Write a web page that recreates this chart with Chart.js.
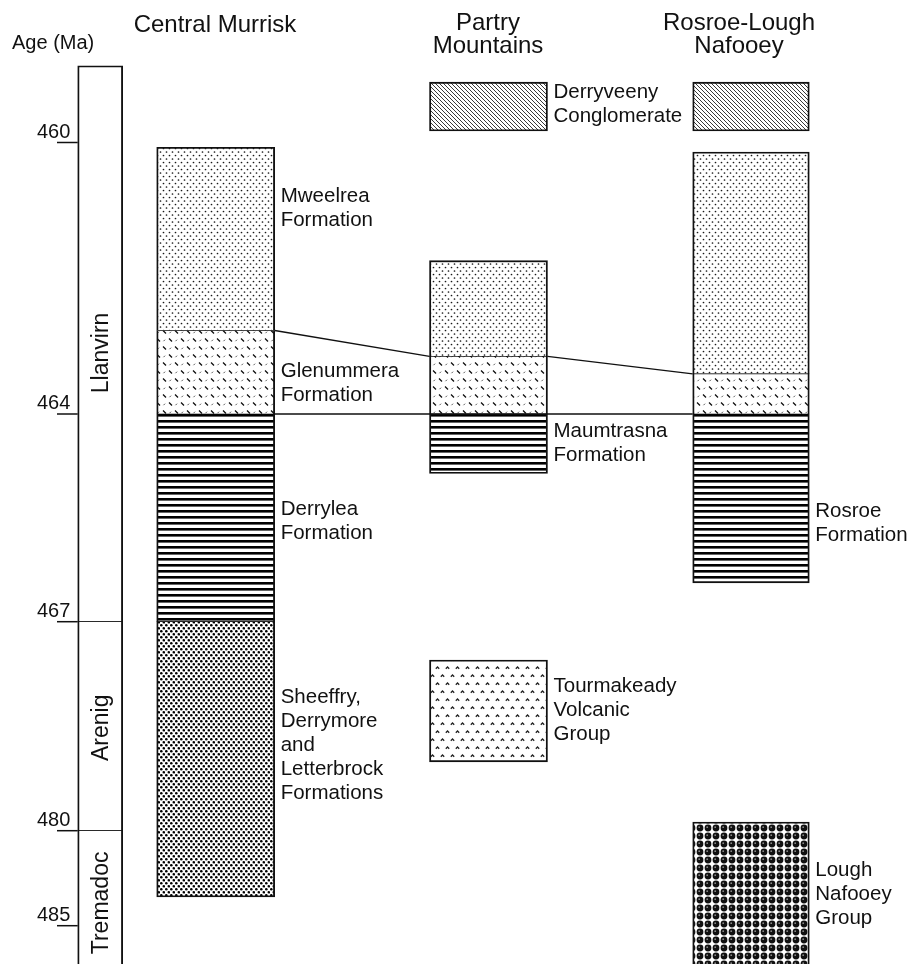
<!DOCTYPE html>
<html><head><meta charset="utf-8">
<script src="https://cdn.jsdelivr.net/npm/chart.js@4.4.1/dist/chart.umd.min.js"></script>
<style>html,body{margin:0;padding:0;background:#fff}canvas{display:block}</style>
</head><body>
<canvas id="c" width="909" height="964"></canvas>
<script>
// ================= DATA (ages in Ma) =================
const ageTicks = [460, 464, 467, 480, 485];
const axisTitle = 'Age (Ma)';

const stageNames = ['Llanvirn', 'Arenig', 'Tremadoc'];
const stageTop   = [458.87, 467, 480];
const stageBase  = [467, 480, 490];

const columnTitles = [['Central Murrisk'], ['Partry', 'Mountains'], ['Rosroe-Lough', 'Nafooey']];

// Central Murrisk
const cmUnits = [['Mweelrea', 'Formation'], ['Glenummera', 'Formation'], ['Derrylea', 'Formation'],
                 ['Sheeffry,', 'Derrymore', 'and', 'Letterbrock', 'Formations']];
const cmTop  = [460.07, 462.77, 464.0, 467.0];
const cmBase = [462.77, 464.0, 467.0, 483.49];
const cmLith = ['dots', 'vdash', 'hlines', 'speckle'];

// Partry Mountains
const pmUnits = [['Derryveeny', 'Conglomerate'], [], [], ['Maumtrasna', 'Formation'], ['Tourmakeady', 'Volcanic', 'Group']];
const pmTop  = [459.11, 461.74, 463.15, 464.0, 469.38];
const pmBase = [459.83, 463.15, 464.0, 464.86, 475.72];
const pmLith = ['hatch', 'dots', 'vdash', 'hlines', 'caret'];

// Rosroe-Lough Nafooey
const rnUnits = [[], [], [], ['Rosroe', 'Formation'], ['Lough', 'Nafooey', 'Group']];
const rnTop  = [459.11, 460.14, 463.41, 464.0, 479.46];
const rnBase = [459.83, 463.41, 464.0, 466.44, 490];
const rnLith = ['hatch', 'dots', 'vdash', 'hlines', 'balls'];

// correlation lines (age at each column)
const corrGlenummeraTop = [cmTop[1], pmTop[2], rnTop[2]];
const corrLlanvirnBase  = [464, 464, 464];

// ================= LAYOUT (not data) =================
const FONT = '"Liberation Sans", Arial, Helvetica, sans-serif';
const cols = { stage: { x: 100.2, w: 45 }, cm: { x: 215.7, w: 118 }, pm: { x: 488.5, w: 118 }, rn: { x: 751, w: 116.6 } };
const titleX = [215, 488, 739];
const cmLabelAt = [460.97, 463.55, 465.55, 474.67];
const pmLabelAt = [459.44, null, null, 464.42, 472.52];
const rnLabelAt = [null, null, null, 465.58, 483.33];
const stageLabelAt = [463.1, 473.6, 483.8];
// piecewise age axis: age knots -> fraction of plot height
const AGE_KNOTS  = [455, 460, 464, 467, 480, 485, 495];
const FRAC_KNOTS = [-0.20436, 0.14782, 0.42946, 0.64492, 0.86172, 0.96027, 1.15737];

function interp(xs, ys, v) {
  let i = 1;
  while (i < xs.length - 1 && v > xs[i]) i++;
  const t = (v - xs[i - 1]) / (xs[i] - xs[i - 1]);
  return ys[i - 1] + t * (ys[i] - ys[i - 1]);
}
class StratAgeScale extends Chart.LinearScale {
  getPixelForValue(v) { return this.top + interp(AGE_KNOTS, FRAC_KNOTS, v) * (this.bottom - this.top); }
  getValueForPixel(p) { return interp(FRAC_KNOTS, AGE_KNOTS, (p - this.top) / (this.bottom - this.top)); }
}
StratAgeScale.id = 'stratAge';
StratAgeScale.defaults = Chart.LinearScale.defaults;
Chart.register(StratAgeScale);

// ================= PATTERNS =================
const pctx = document.createElement('canvas').getContext('2d');
function makePattern(w, h, draw) {
  const c = document.createElement('canvas'); c.width = w; c.height = h;
  const g = c.getContext('2d');
  g.fillStyle = '#fff'; g.fillRect(0, 0, w, h);
  draw(g);
  return pctx.createPattern(c, 'repeat');
}
function dot(g, x, y, r) { g.beginPath(); g.arc(x, y, r, 0, Math.PI * 2); g.fill(); }
const patterns = {
  white: '#ffffff',
  dots: makePattern(6, 7, g => { g.fillStyle = '#1a1a1a'; dot(g, 1.5, 1.5, 0.85); dot(g, 4.5, 5, 0.85); }),
  vdash: makePattern(12, 16, g => {
    g.lineWidth = 1.3; g.strokeStyle = '#111';
    g.beginPath(); g.moveTo(1, 2.5); g.lineTo(4, 5.5); g.moveTo(7, 10.5); g.lineTo(10, 13.5); g.stroke();
    g.strokeStyle = '#555'; g.lineWidth = 1;
    g.beginPath(); g.moveTo(7.5, 5.2); g.lineTo(9, 3.7); g.moveTo(1.5, 13.2); g.lineTo(3, 11.7); g.stroke();
  }),
  hlines: makePattern(4, 6, g => { g.fillStyle = '#000'; g.fillRect(0, 0, 4, 2.6); }),
  speckle: makePattern(5, 6, g => { g.fillStyle = '#000'; dot(g, 1.3, 1.3, 1.3); dot(g, 3.8, 4.3, 1.3); }),
  hatch: makePattern(4, 4, g => {
    g.strokeStyle = '#222'; g.lineWidth = 0.9; g.beginPath();
    for (const k of [-4, 0, 4]) { g.moveTo(k, 0); g.lineTo(k + 4, 4); }
    g.stroke();
  }),
  caret: makePattern(10, 16, g => {
    g.strokeStyle = '#222'; g.lineWidth = 1.3; g.beginPath();
    for (const [x, y] of [[2.5, 3], [7.5, 11]]) { g.moveTo(x - 1.7, y + 1.7); g.lineTo(x, y); g.lineTo(x + 1.7, y + 1.7); }
    g.stroke();
  }),
  balls: makePattern(8, 8, g => {
    g.fillStyle = '#111'; dot(g, 4, 4, 3.4);
    g.fillStyle = '#888'; dot(g, 3.2, 3.2, 0.9);
  })
};

// ================= DATASETS =================
const OUTER = 1.9, INNER = 0.7;
function column(top, base, lith, col) {
  const n = top.length;
  return {
    data: top.map((t, i) => ({ x: col.x, y: [t, base[i]] })),
    backgroundColor: lith.map(k => patterns[k]),
    borderColor: '#111',
    borderWidth: ctx => {
      const i = ctx.dataIndex;
      const adjUp = i > 0 && Math.abs(base[i - 1] - top[i]) < 1e-9;
      const adjDn = i < n - 1 && Math.abs(top[i + 1] - base[i]) < 1e-9;
      return { top: adjUp ? INNER : OUTER, bottom: adjDn ? INNER : OUTER, left: OUTER, right: OUTER };
    },
    borderSkipped: false,
    barThickness: col.w,
    grouped: false
  };
}
const datasets = [
  column(stageTop, stageBase, stageNames.map(() => 'white'), cols.stage),
  column(cmTop, cmBase, cmLith, cols.cm),
  column(pmTop, pmBase, pmLith, cols.pm),
  column(rnTop, rnBase, rnLith, cols.rn)
];

// ================= DECORATION PLUGIN =================
const decor = {
  id: 'decor',
  afterDatasetsDraw(chart) {
    const ctx = chart.ctx, xs = chart.scales.x, ys = chart.scales.y;
    const X = v => xs.getPixelForValue(v), Y = a => ys.getPixelForValue(a);
    const left = c => X(c.x - c.w / 2), right = c => X(c.x + c.w / 2);
    ctx.save();
    ctx.fillStyle = '#111'; ctx.strokeStyle = '#111';

    // correlation lines
    ctx.lineWidth = 1.3;
    const colsOrder = [cols.cm, cols.pm, cols.rn];
    ctx.beginPath();
    for (let k = 0; k < 2; k++) {
      ctx.moveTo(right(colsOrder[k]), Y(corrGlenummeraTop[k]));
      ctx.lineTo(left(colsOrder[k + 1]), Y(corrGlenummeraTop[k + 1]));
    }
    ctx.moveTo(right(cols.cm), Y(corrLlanvirnBase[0]));
    ctx.lineTo(left(cols.rn), Y(corrLlanvirnBase[2]));
    ctx.stroke();

    // age axis ticks
    ctx.lineWidth = 1.5;
    ctx.font = '20px ' + FONT;
    ctx.textAlign = 'left'; ctx.textBaseline = 'alphabetic';
    for (const a of ageTicks) {
      const y = Y(a);
      ctx.beginPath(); ctx.moveTo(57, y); ctx.lineTo(left(cols.stage), y); ctx.stroke();
      ctx.fillText(String(a), 37, y - 4.5);
    }
    ctx.textBaseline = 'middle';
    ctx.fillText(axisTitle, 12, 43);

    // stage labels
    ctx.font = '23px ' + FONT;
    ctx.textAlign = 'center';
    stageNames.forEach((s, i) => {
      ctx.save();
      ctx.translate(X(cols.stage.x) + 1, Y(stageLabelAt[i]));
      ctx.rotate(-Math.PI / 2);
      ctx.fillText(s, 0, 0);
      ctx.restore();
    });

    // column titles
    ctx.font = '24px ' + FONT;
    columnTitles.forEach((lines, i) => {
      lines.forEach((t, j) => ctx.fillText(t, titleX[i], (lines.length === 1 ? 25 : 23) + j * 23));
    });

    // unit labels
    ctx.font = '20.5px ' + FONT;
    ctx.textAlign = 'left';
    const lab = (units, at, col) => units.forEach((lines, i) => {
      if (!lines.length || at[i] == null) return;
      const cy = Y(at[i]), lh = 24, x0 = right(col) + 6;
      lines.forEach((t, j) => ctx.fillText(t, x0, cy + (j - (lines.length - 1) / 2) * lh));
    });
    lab(cmUnits, cmLabelAt, cols.cm);
    lab(pmUnits, pmLabelAt, cols.pm);
    lab(rnUnits, rnLabelAt, cols.rn);
    ctx.restore();
  }
};

new Chart(document.getElementById('c'), {
  type: 'bar',
  data: { datasets },
  options: {
    responsive: false,
    animation: false,
    events: [],
    layout: { padding: 0 },
    plugins: { legend: { display: false }, tooltip: { enabled: false }, title: { display: false } },
    scales: {
      x: { type: 'linear', min: 0, max: 909, display: false, offset: false },
      y: { type: 'stratAge', min: 455, max: 495, display: false }
    }
  },
  plugins: [decor]
});
</script>
</body></html>
